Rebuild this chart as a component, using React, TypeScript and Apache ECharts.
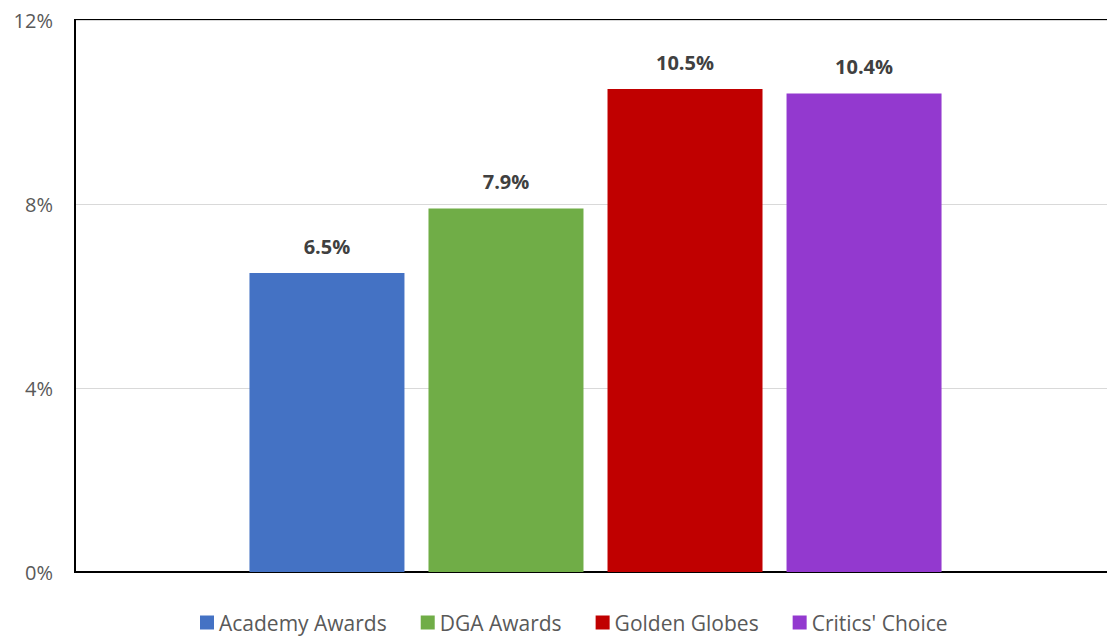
import React, { useEffect, useRef } from "react";
import * as echarts from "echarts";

const seriesNames = ["Academy Awards", "DGA Awards", "Golden Globes", "Critics' Choice"];
const seriesValues = [6.5, 7.9, 10.5, 10.4];
const seriesColors = ["#4472C4", "#70AD47", "#C00000", "#9339CF"];
const yTicks = { min: 0, max: 12, interval: 4 };
const categories = [""];

export default function App() {
  const ref = useRef<HTMLDivElement>(null);
  useEffect(() => {
    if (!ref.current) return;
    const chart = echarts.init(ref.current, undefined, { renderer: "svg" });
    const font = "'Open Sans', sans-serif";
    chart.setOption({
      animation: false,
      backgroundColor: "#ffffff",
      grid: {
        left: 75,
        top: 20,
        right: 0,
        height: 552,
        show: true,
        borderColor: "#000000",
        borderWidth: 2,
        backgroundColor: "transparent",
      },
      legend: {
        top: 612,
        left: 200,
        padding: 0,
        itemWidth: 14,
        itemHeight: 14,
        itemGap: 34,
        icon: "rect",
        textStyle: { color: "#595959", fontSize: 21, fontFamily: font },
        data: seriesNames,
      },
      xAxis: {
        type: "category",
        data: categories,
        axisTick: { show: false },
        axisLabel: { show: false },
        axisLine: { lineStyle: { color: "#000000", width: 2 } },
      },
      yAxis: {
        type: "value",
        min: yTicks.min,
        max: yTicks.max,
        interval: yTicks.interval,
        axisLine: { show: true, lineStyle: { color: "#000000", width: 2 } },
        axisTick: { show: false },
        axisLabel: {
          formatter: "{value}%",
          color: "#595959",
          fontSize: 20,
          fontFamily: font,
          margin: 22,
        },
        splitLine: { lineStyle: { color: "#D9D9D9", width: 1 } },
      },
      series: seriesNames.map((name, i) => ({
        name,
        type: "bar",
        data: [seriesValues[i]],
        barWidth: 155,
        barGap: "15.5%",
        itemStyle: { color: seriesColors[i] },
        label: {
          show: true,
          position: "top",
          distance: 17,
          formatter: (p: any) => p.value.toFixed(1) + "%",
          color: "#404040",
          fontSize: 20,
          fontWeight: "bold",
          fontFamily: font,
        },
      })),
    });
    return () => chart.dispose();
  }, []);
  return (
    <div
      ref={ref}
      style={{ position: "fixed", left: 0, top: 0, width: 1116, height: 637 }}
    />
  );
}
